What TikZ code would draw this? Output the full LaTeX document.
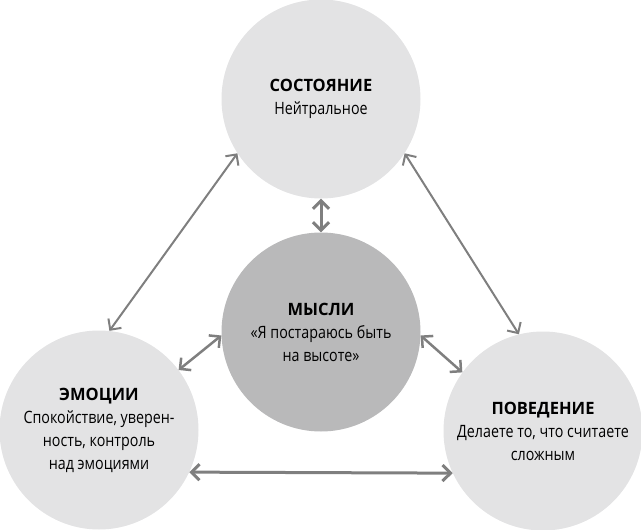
\documentclass[tikz,border=0pt]{standalone}
\usepackage{fontspec}
\setmainfont{Open Sans}[FakeStretch=0.84]
\newfontfamily\titlefamily{Open Sans}[FakeStretch=0.97]
\newcommand{\bubbletitle}[1]{{\titlefamily\bfseries #1}}
\usetikzlibrary{arrows.meta}
\definecolor{outerfill}{HTML}{E3E3E4}
\definecolor{innerfill}{HTML}{B9B9BA}
\definecolor{arrowgray}{HTML}{7F7F7F}
\tikzset{
  bubble/.style={circle, fill=outerfill, minimum size=199pt, inner sep=0pt, align=center,
    font=\fontsize{17}{23}\selectfont},
  centerbubble/.style={bubble, fill=innerfill},
  link/.style={draw=arrowgray, line width=2pt,
    {Straight Barb[length=8pt,width=16pt]}-{Straight Barb[length=8pt,width=16pt]}},
  thicklink/.style={link, line width=3pt}
}
\begin{document}
\begin{tikzpicture}[x=1pt,y=-1pt]
\useasboundingbox (0,0) rectangle (641,530);
\node[bubble] (state) at (321,99) {\bubbletitle{СОСТОЯНИЕ}\\Нейтральное};
\node[centerbubble] (thoughts) at (321,332) {\bubbletitle{МЫСЛИ}\\«Я постараюсь быть\\на высоте»};
\node[bubble] (emotions) at (99,430) {\bubbletitle{ЭМОЦИИ}\\Спокойствие, уверен-\\ность, контроль\\над эмоциями};
\node[bubble] (behaviour) at (543,431) {\bubbletitle{ПОВЕДЕНИЕ}\\Делаете то, что считаете\\сложным};
\draw[link] (emotions.84) -- (state.213);
\draw[link] (state.327) -- (behaviour.104);
\draw[thicklink] (state.270) -- (thoughts.90);
\draw[link, line width=2.5pt] (emotions.37) -- (thoughts.182);
\draw[link, line width=2.5pt] (thoughts.358) -- (behaviour.144);
\draw[thicklink] (emotions.-25) -- (behaviour.205);
\end{tikzpicture}
\end{document}
